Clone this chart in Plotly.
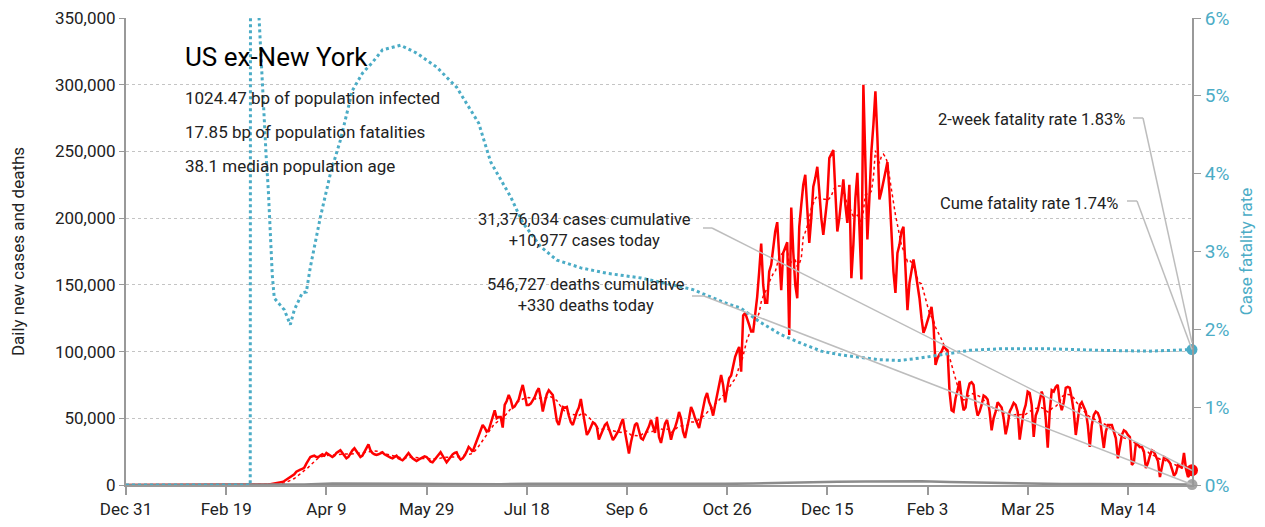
import pandas as pd
import plotly.graph_objects as go

# daily new cases, thousands, 2019-12-31 .. 2021-06-15 (zero until Mar 1 2020)
cases_k = [0] * 61 + [
    0, 0, 0, 0, 0.1, 0.2, 0.3,
    0.2, 0.3, 0.4, 0.5, 0.6, 0.8, 1.0,
    1.2, 1.4, 1.6, 2.2, 3, 4, 5,
    5.5, 6.5, 8, 10, 11, 11.5, 12,
    13, 16, 19, 21, 21.5, 22, 21,
    21, 22, 23, 22, 24, 23, 22,
    21, 22, 24, 25, 26, 24, 22,
    20, 21, 24, 26, 27.5, 25, 23,
    21, 22, 25, 28, 30.5, 26, 24,
    23, 22.5, 23, 24, 24.5, 23, 22,
    21, 20.5, 20, 21, 22, 20, 19,
    18.5, 20, 22, 24, 22, 20, 19,
    18, 19, 20, 21, 21.5, 21, 19,
    17.5, 17, 19, 21, 23, 24.5, 22,
    19, 17, 19, 21, 23, 24, 24.5,
    21, 19, 20, 22, 25, 28.5, 27,
    25, 29, 33, 36, 40, 45, 43,
    40, 41, 46, 52, 56, 50, 51,
    51, 43, 60, 63, 67.5, 64, 58,
    59, 61.5, 64, 70, 75, 68, 60,
    60, 61, 63.5, 66, 70, 72.5, 65,
    55, 62, 68, 71, 69, 67.5, 58,
    48, 45, 52, 58.5, 58, 58.5, 52,
    47, 45, 50, 54.75, 58, 64.5, 55,
    45, 37.5, 40, 44, 47, 46, 43.5,
    34, 38, 41, 45, 46.5, 42, 38,
    33.75, 36, 39, 41.25, 46, 49.5, 40,
    30, 23.5, 32, 40, 45, 46.5, 40,
    35, 34, 37, 40, 44, 48.75, 44,
    39, 51, 36, 31.5, 40, 46, 48.75,
    40, 34, 40, 43, 48, 54.75, 50,
    40, 35.25, 42, 50, 58.5, 55, 50,
    46, 42.75, 50, 58, 65, 69, 62.25,
    58.5, 52, 60, 67.5, 75, 82.5, 75,
    62, 72, 80, 82, 90, 96, 100,
    103.5, 85, 127, 129, 125, 120, 115,
    115, 128, 141, 160, 181, 150, 136.5,
    136.5, 160, 165, 180, 190, 197, 170,
    146, 174, 178, 182, 112.5, 208, 175,
    150, 140, 193.5, 210, 225, 232.5, 210,
    181.5, 200, 223.5, 230, 238.5, 220, 200,
    187.5, 200, 215, 245, 248, 251, 220,
    190, 200, 215, 229, 210, 196.5, 225,
    155, 180, 215, 234, 200, 154, 300,
    240, 184, 215, 250, 270, 295, 260,
    214, 220, 226.5, 235, 242, 220, 190,
    160, 144, 174, 180, 190, 193.5, 160,
    131, 151.5, 160, 169, 160, 150, 140,
    125, 114, 118, 124, 128, 133.5, 120,
    90, 95, 98, 100, 103.5, 102, 101,
    70, 56, 55, 65, 71, 78, 65,
    56, 58, 70, 76, 77, 75, 60,
    52, 55, 60, 67, 66, 64, 55,
    41, 50, 55, 62, 60, 58, 50,
    38, 45, 55, 58, 61.5, 60, 55,
    34, 45, 55, 60, 70, 69, 60,
    36, 52, 56, 62, 70, 65, 50,
    28, 55, 71, 70, 73.5, 75, 62,
    56, 62, 72.75, 73.5, 72.75, 65, 55,
    37.5, 48.75, 60, 62, 58.5, 55, 45,
    28.5, 45, 52.5, 55, 54, 50, 40,
    27.75, 40, 45, 45, 45, 40, 35,
    20, 28.5, 37.5, 41, 40, 37.5, 36,
    15, 17, 31.5, 30, 28.5, 28.5, 25,
    12.75, 16.5, 22, 26, 25, 22, 18,
    6, 15, 21, 20, 18, 16.5, 12,
    7, 9, 15, 14, 13.5, 24, 12,
    6, 8, 10.977,
]
start_date = "2019-12-31"

# daily deaths, thousands (read roughly, sparse)
death_dates = ["2019-12-31", "2020-03-01", "2020-03-15", "2020-03-29", "2020-04-12", "2020-04-26",
               "2020-05-10", "2020-05-24", "2020-06-07", "2020-06-21", "2020-07-05", "2020-07-19",
               "2020-08-02", "2020-08-16", "2020-08-30", "2020-09-13", "2020-09-27", "2020-10-11",
               "2020-10-25", "2020-11-08", "2020-11-22", "2020-12-06", "2020-12-20", "2021-01-03",
               "2021-01-17", "2021-01-31", "2021-02-14", "2021-02-28", "2021-03-14", "2021-03-28",
               "2021-04-11", "2021-04-25", "2021-05-09", "2021-05-23", "2021-06-06", "2021-06-15"]
deaths_k = [0, 0, 0.02, 0.4, 1.2, 1.3, 1.2, 1.0, 0.8, 0.6, 0.6, 0.9, 1.1, 1.0, 0.9, 0.8, 0.75, 0.75,
            0.85, 1.1, 1.6, 2.2, 2.5, 2.6, 3.0, 2.9, 2.2, 1.8, 1.2, 0.9, 0.7, 0.7, 0.6, 0.5, 0.4, 0.33]

# case fatality rate, %
cfr_dates = ["2019-12-31", "2020-03-02", "2020-03-03", "2020-03-04", "2020-03-05", "2020-03-06",
             "2020-03-07", "2020-03-08", "2020-03-09", "2020-03-10", "2020-03-11", "2020-03-12",
             "2020-03-13", "2020-03-14", "2020-03-17", "2020-03-19", "2020-03-22", "2020-03-24",
             "2020-03-28", "2020-03-30", "2020-04-01", "2020-04-06", "2020-04-11", "2020-04-16",
             "2020-04-22", "2020-04-27", "2020-05-02", "2020-05-07", "2020-05-16", "2020-05-24",
             "2020-06-03", "2020-06-13", "2020-06-24", "2020-06-30", "2020-07-06", "2020-07-10",
             "2020-07-16", "2020-07-25", "2020-08-02", "2020-08-14", "2020-08-27", "2020-09-13",
             "2020-09-29", "2020-10-09", "2020-10-24", "2020-11-02", "2020-11-11", "2020-11-22",
             "2020-12-02", "2020-12-12", "2020-12-22", "2021-01-01", "2021-01-10", "2021-01-20",
             "2021-01-30", "2021-02-09", "2021-02-19", "2021-02-24", "2021-03-11", "2021-04-05",
             "2021-04-30", "2021-05-25", "2021-06-15"]
cfr_pct = [0, 0, 50, 25, 12, 6.2, 5.7, 5.1, 4.6, 4.2, 3.8, 3.3, 2.7, 2.4, 2.31, 2.25, 2.06, 2.25,
           2.47, 2.48, 2.8, 3.44, 4.0, 4.43, 5.07, 5.29, 5.43, 5.59, 5.65, 5.55, 5.37, 5.11, 4.65,
           4.15, 3.88, 3.70, 3.37, 3.06, 2.89, 2.79, 2.72, 2.66, 2.57, 2.51, 2.35, 2.27, 2.10, 1.93,
           1.82, 1.72, 1.67, 1.64, 1.61, 1.60, 1.63, 1.67, 1.71, 1.73, 1.75, 1.75, 1.73, 1.72, 1.74]

tick_dates = ["2019-12-31", "2020-02-19", "2020-04-09", "2020-05-29", "2020-07-18", "2020-09-06",
              "2020-10-26", "2020-12-15", "2021-02-03", "2021-03-25", "2021-05-14"]

info_lines = ["1024.47 bp of population infected", "17.85 bp of population fatalities",
              "38.1 median population age"]
two_week_rate = 1.83
cume_rate = 1.74

FONT = "Roboto, Liberation Sans, sans-serif"
RED = "#ff0000"
TEAL = "#4bacc6"
GREY = "#8c8c8c"
CONN = "#bdbdbd"

# plot area in page pixels (page has an 8px body margin)
PL, PR, PT, PB = 126, 1192, 18, 485
PW, PH = PR - PL, PB - PT


def px(x):
    return (x - PL) / PW


def py(y):
    return (PB - y) / PH


dates = pd.date_range(start_date, periods=len(cases_k), freq="D")
cases = pd.Series([v * 1000 for v in cases_k], index=dates)
cases_avg = cases.rolling(7, min_periods=1).mean()
deaths = [v * 1000 for v in deaths_k]

fig = go.Figure()
fig.add_trace(go.Scatter(x=dates, y=cases, mode="lines", line=dict(color=RED, width=2.5)))
fig.add_trace(go.Scatter(x=dates, y=cases_avg, mode="lines", line=dict(color=RED, width=1.5, dash="dot")))
fig.add_trace(go.Scatter(x=death_dates, y=deaths, mode="lines", line=dict(color=GREY, width=2.5)))
fig.add_trace(go.Scatter(x=[dates[-1]], y=[cases.iloc[-1]], mode="markers",
                         marker=dict(color=RED, size=12), cliponaxis=False))
fig.add_trace(go.Scatter(x=[death_dates[-1]], y=[deaths[-1]], mode="markers",
                         marker=dict(color="#a6a6a6", size=11), cliponaxis=False))
fig.add_trace(go.Scatter(x=cfr_dates, y=cfr_pct, mode="lines", yaxis="y2",
                         line=dict(color=TEAL, width=3, dash="dot")))
fig.add_trace(go.Scatter(x=[cfr_dates[-1]], y=[cfr_pct[-1]], mode="markers", yaxis="y2",
                         marker=dict(color=TEAL, size=11), cliponaxis=False))

ann = []
ann.append(dict(x=px(183), y=py(57), xref="paper", yref="paper", xanchor="left", yanchor="middle",
                text="US ex-New York", showarrow=False, font=dict(size=26, color="#000")))
for i, t in enumerate(info_lines):
    ann.append(dict(x=px(183), y=py(98 + 34 * i), xref="paper", yref="paper",
                    xanchor="left", yanchor="middle", text=t, showarrow=False,
                    font=dict(size=17, color="#222")))
ann.append(dict(x=px(1127), y=py(120), xref="paper", yref="paper",
                xanchor="right", yanchor="middle", text=f"2-week fatality rate {two_week_rate:.2f}%",
                showarrow=False, font=dict(size=16.5, color="#222")))
ann.append(dict(x=px(1120), y=py(203), xref="paper", yref="paper",
                xanchor="right", yanchor="middle", text=f"Cume fatality rate {cume_rate:.2f}%",
                showarrow=False, font=dict(size=16.5, color="#222")))
ann.append(dict(x=px(584), y=py(230), xref="paper", yref="paper",
                xanchor="center", yanchor="middle",
                text="31,376,034 cases cumulative<br>+10,977 cases today",
                showarrow=False, font=dict(size=16.5, color="#222")))
ann.append(dict(x=px(586), y=py(295), xref="paper", yref="paper",
                xanchor="center", yanchor="middle",
                text="546,727 deaths cumulative<br>+330 deaths today",
                showarrow=False, font=dict(size=16.5, color="#222")))


def connector(px0, px1, y_start, y_end, yref):
    ln = dict(color=CONN, width=1.5)
    return [dict(type="line", xref="paper", yref=yref, x0=px(px0), x1=px(px1), y0=y_start, y1=y_start, line=ln),
            dict(type="line", xref="paper", yref=yref, x0=px(px1), x1=1.0, y0=y_start, y1=y_end, line=ln)]


shapes = []
shapes += connector(703, 712, py(228) * 350000, cases.iloc[-1], "y")
shapes += connector(692, 704, py(296) * 350000, deaths[-1], "y")
shapes += connector(1133, 1143, py(118) * 6, two_week_rate, "y2")
shapes += connector(1127, 1137, py(201) * 6, cume_rate, "y2")

fig.update_layout(
    width=1257, height=519,
    margin=dict(l=PL - 8, r=1265 - PR, t=PT - 8, b=527 - PB),
    plot_bgcolor="white", paper_bgcolor="white",
    font=dict(family=FONT, size=17, color="#222"),
    showlegend=False,
    annotations=ann,
    shapes=shapes,
    xaxis=dict(type="date", range=[start_date, dates[-1]], tickvals=tick_dates, tickformat="%b %-d",
               showgrid=False, zeroline=False, showline=True, linecolor="#999", linewidth=2,
               ticks="outside", ticklen=8, tickcolor="#999", tickwidth=1.5, automargin=False,
               ticklabeloverflow="allow", tickfont=dict(size=17, color="#222")),
    yaxis=dict(range=[0, 350000], dtick=50000, tickformat=",", showgrid=True, gridcolor="#c4c4c4",
               griddash="dot", gridwidth=1, zeroline=False, showline=True, linecolor="#999",
               linewidth=2, ticks="outside", ticklen=5, tickcolor="#999", automargin=False,
               ticklabeloverflow="allow",
               title=dict(text="Daily new cases and deaths", font=dict(size=17, color="#222"), standoff=26),
               tickfont=dict(size=17, color="#222")),
    yaxis2=dict(range=[0, 6], dtick=1, ticksuffix="%", overlaying="y", side="right", showgrid=False,
                zeroline=False, showline=True, linecolor="#999", linewidth=2, ticks="outside",
                ticklen=7, tickcolor="#999", tickfont=dict(size=19, color=TEAL), automargin=False,
                ticklabeloverflow="allow",
                title=dict(text="Case fatality rate", font=dict(size=17, color=TEAL), standoff=12)),
)

fig.write_html("out.html")
